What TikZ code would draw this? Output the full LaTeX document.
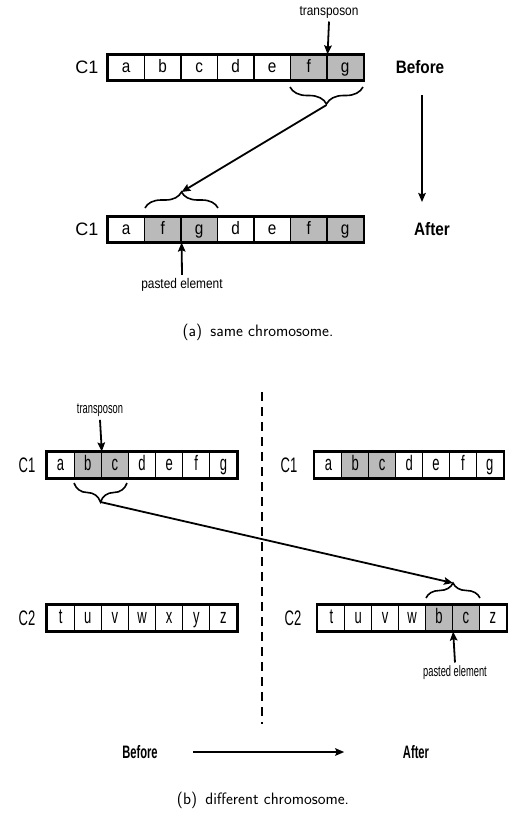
\documentclass[tikz,border=0pt]{standalone}
\usepackage{fontspec}
\newfontfamily\arialfont{Liberation Sans}
\newfontfamily\narrowfont[FakeStretch=0.85]{Liberation Sans}
\newfontfamily\condfont[FakeStretch=0.62]{Liberation Sans}
\usetikzlibrary{arrows.meta,decorations.pathreplacing}
\begin{document}
\begin{tikzpicture}[x=1pt,y=-1pt,
  cellA/.style={draw,line width=1.2pt,minimum width=36.5pt,minimum height=25pt,inner sep=0pt,
     text height=13pt,text depth=4pt,
     font=\narrowfont\fontsize{18}{18}\selectfont},
  cellB/.style={draw,line width=1.1pt,minimum width=27.1pt,minimum height=26pt,inner sep=0pt,
     text height=15pt,text depth=4.5pt,
     font=\condfont\fontsize{21}{21}\selectfont},
  shade/.style={fill=black!27},
  plain/.style={fill=white},
  outer/.style={line width=2pt},
  labA/.style={font=\arialfont\fontsize{18}{18}\selectfont},
  labB/.style={font=\condfont\fontsize{21}{21}\selectfont},
  boldA/.style={font=\narrowfont\bfseries\fontsize{18}{18}\selectfont},
  boldB/.style={font=\condfont\bfseries\fontsize{18}{18}\selectfont},
  smallA/.style={font=\narrowfont\fontsize{14}{14}\selectfont},
  smallB/.style={font=\condfont\fontsize{15}{15}\selectfont},
  capt/.style={font=\sffamily\fontsize{16.5}{16.5}\selectfont},
  arr/.style={line width=1.8pt,-{Stealth[length=9pt,width=7.5pt,inset=1.5pt]}},
  brc/.style={line width=1.6pt,decorate,decoration={brace,amplitude=#1}},
]
\useasboundingbox (0,0) rectangle (508,815);

% ---------- (a) same chromosome ----------
\foreach \l/\s [count=\i] in {a/plain,b/plain,c/plain,d/plain,e/plain,f/shade,g/shade}
  \node[cellA,\s] (A\i) at ({108+36.5*(\i-0.5)},67.5) {\l};
\draw[outer] (A1.north west) rectangle (A7.south east);
\foreach \l/\s [count=\i] in {a/plain,f/shade,g/shade,d/plain,e/plain,f/shade,g/shade}
  \node[cellA,\s] (B\i) at ({108+36.5*(\i-0.5)},229.5) {\l};
\draw[outer] (B1.north west) rectangle (B7.south east);

\node[labA] (c1a) at (87,67.5) {C1};
\node[labA] (c1b) at (87,229.5) {C1};
\node[boldA] (befA) at (420,67.5) {Before};
\node[boldA] (aftA) at (432,229.5) {After};
\coordinate (vtop) at (422,95);
\coordinate (vbot) at (422,202);
\draw[arr] (vtop) -- (vbot);

\node[smallA] (tpA) at (329,12) {transposon};
\draw[arr] (tpA.south) -- (A6.north east);

\draw[brc=17pt] (363,87) -- (290,87);
\coordinate (tipA) at (326.5,105);
\draw[brc=16pt] (145,208) -- (218,208);
\coordinate (tipB) at (181.5,192);
\draw[arr] (tipA) -- (tipB);

\node[smallA] (peA) at (182,285) {pasted element};
\draw[arr] (peA.north) -- (B2.south east);

\node[capt] (captA) at (258,332) {(a)\enspace same chromosome.};

% ---------- (b) different chromosome ----------
\coordinate (dtop) at (262,392);
\coordinate (dbot) at (262,724);
\draw[line width=2pt,dash pattern=on 9pt off 6pt] (dtop) -- (dbot);

\foreach \l/\s [count=\i] in {a/plain,b/shade,c/shade,d/plain,e/plain,f/plain,g/plain}
  \node[cellB,\s] (L\i) at ({47+27.14*(\i-0.5)},465) {\l};
\draw[outer] (L1.north west) rectangle (L7.south east);
\foreach \l/\s [count=\i] in {a/plain,b/shade,c/shade,d/plain,e/plain,f/plain,g/plain}
  \node[cellB,\s] (R\i) at ({315+26.9*(\i-0.5)},465) {\l};
\draw[outer] (R1.north west) rectangle (R7.south east);
\foreach \l/\s [count=\i] in {t/plain,u/plain,v/plain,w/plain,x/plain,y/plain,z/plain}
  \node[cellB,\s] (M\i) at ({47+27.14*(\i-0.5)},618) {\l};
\draw[outer] (M1.north west) rectangle (M7.south east);
\foreach \l/\s [count=\i] in {t/plain,u/plain,v/plain,w/plain,b/shade,c/shade,z/plain}
  \node[cellB,\s] (S\i) at ({318+26.9*(\i-0.5)},618) {\l};
\draw[outer] (S1.north west) rectangle (S7.south east);

\node[labB] (lc1) at (27,465) {C1};
\node[labB] (rc1) at (289,465) {C1};
\node[labB] (lc2) at (27,618) {C2};
\node[labB] (rc2) at (293,618) {C2};

\node[smallB] (tpB) at (100,410) {transposon};
\draw[arr] (tpB.south) -- (L2.north east);

\draw[brc=19pt] (127,483) -- (74,483);
\coordinate (tipC) at (100.5,502);
\draw[brc=15pt] (426,598) -- (480,598);
\coordinate (tipD) at (453,583);
\draw[arr] (tipC) -- (tipD);

\node[smallB] (peB) at (455,673) {pasted element};
\draw[arr] (peB.north) -- (S5.south east);

\node[boldB] (befB) at (140,752) {Before};
\node[boldB] (aftB) at (416,752) {After};
\draw[arr] (befB.east) ++(32,0) coordinate (hs) (hs) -- ++(151,0) coordinate (he);

\node[capt] (captB) at (263,800) {(b)\enspace different chromosome.};
\end{tikzpicture}
\end{document}
